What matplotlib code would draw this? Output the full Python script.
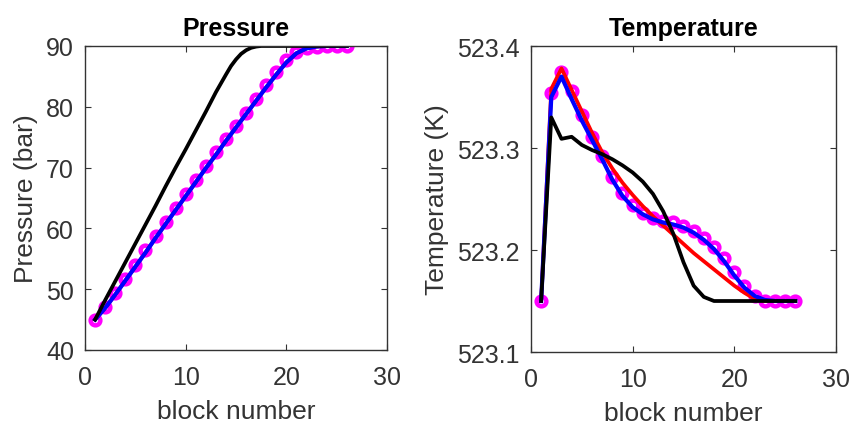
import numpy as np
import matplotlib.pyplot as plt

plt.rcParams['font.family'] = ['Liberation Sans', 'DejaVu Sans']

blocks = list(range(1, 27))

# pressure (bar)
pres_mag = [45.0, 47.1, 49.4, 51.7, 54.0, 56.4, 58.8, 61.1, 63.4, 65.7, 68.0, 70.2, 72.5,
            74.7, 76.9, 79.0, 81.3, 83.6, 85.8, 87.7, 89.0, 89.6, 89.9, 90.0, 90.0, 90.0]
pres_blue = [45.0, 46.9, 49.1, 51.4, 53.7, 56.0, 58.4, 60.7, 63.0, 65.3, 67.6, 69.9, 72.1,
             74.4, 76.6, 78.8, 81.0, 83.2, 85.3, 87.3, 88.8, 89.6, 89.9, 90.0, 90.0, 90.0]
pres_red = [45.0, 46.9, 49.1, 51.4, 53.7, 56.0, 58.4, 60.7, 63.0, 65.3, 67.6, 69.9, 72.1,
            74.4, 76.6, 78.8, 81.0, 83.2, 85.3, 87.3, 88.8, 89.6, 89.9, 90.0, 90.0, 90.0]
black_x = [1, 2, 3, 4, 5, 6, 7, 8, 9, 10, 11, 12, 13, 14, 14.5, 15, 15.5, 16, 16.5, 17, 17.5,
           18, 19, 20, 21, 22, 23, 24, 25, 26]
pres_black = [45.0, 48.2, 51.3, 54.4, 57.5, 60.6, 63.7, 66.9, 70.0, 73.0, 76.1, 79.2, 82.4,
              85.3, 86.7, 87.8, 88.7, 89.3, 89.7, 89.9, 90.0, 90.0, 90.0, 90.0, 90.0, 90.0,
              90.0, 90.0, 90.0, 90.0]

# temperature (K)
temp_mag = [523.150, 523.354, 523.375, 523.356, 523.332, 523.311, 523.292, 523.272, 523.256,
            523.244, 523.236, 523.231, 523.228, 523.227, 523.224, 523.219, 523.212, 523.203,
            523.192, 523.178, 523.165, 523.155, 523.150, 523.150, 523.150, 523.150]
temp_red = [523.150, 523.358, 523.378, 523.357, 523.336, 523.315, 523.296, 523.280, 523.266,
            523.254, 523.243, 523.233, 523.224, 523.215, 523.206, 523.197, 523.189, 523.181,
            523.173, 523.165, 523.158, 523.152, 523.150, 523.150, 523.150, 523.150]
temp_blue = [523.150, 523.350, 523.370, 523.348, 523.327, 523.308, 523.289, 523.269, 523.253,
             523.242, 523.235, 523.230, 523.227, 523.225, 523.222, 523.217, 523.210, 523.201,
             523.189, 523.175, 523.163, 523.155, 523.151, 523.150, 523.150, 523.150]
temp_black = [523.150, 523.330, 523.309, 523.311, 523.303, 523.298, 523.294, 523.289, 523.283,
              523.276, 523.267, 523.255, 523.238, 523.216, 523.188, 523.165, 523.154, 523.150,
              523.150, 523.150, 523.150, 523.150, 523.150, 523.150, 523.150, 523.150]

grey = '#333333'
fig = plt.figure(figsize=(8.52, 4.27), dpi=100)
ax1 = fig.add_axes([0.0998, 0.178, 0.3545, 0.712])
ax2 = fig.add_axes([0.6232, 0.1733, 0.358, 0.7166])


def style(ax):
    for s in ax.spines.values():
        s.set_color(grey)
        s.set_linewidth(1.0)
    ax.tick_params(direction='in', top=True, right=True, length=4, width=0.8,
                   colors=grey, labelsize=18)
    ax.tick_params(axis='x', pad=11)
    ax.tick_params(axis='y', pad=8)
    ax.set_xlim(0, 30)
    ax.set_xticks([0, 10, 20, 30])
    ax.set_xlabel('block number', fontsize=19, color=grey, labelpad=7)


mk = dict(marker='o', ls='none', ms=7.0, mew=3.2, mfc='none', mec='#FF00FF')

ax1.plot(blocks, pres_mag, **mk)
ax1.plot(blocks, pres_red, color='#FF0000', lw=2.7)
ax1.plot(blocks, pres_blue, color='#0000FF', lw=3.0)
ax1.plot(black_x, pres_black, color='black', lw=2.7)
style(ax1)
ax1.set_ylim(40, 90)
ax1.set_yticks([40, 50, 60, 70, 80, 90])
ax1.set_ylabel('Pressure (bar)', fontsize=19, color=grey, labelpad=6)
ax1.set_title('Pressure', fontsize=18, fontweight='bold', pad=8)

ax2.plot(blocks, temp_mag, **mk)
ax2.plot(blocks, temp_red, color='#FF0000', lw=2.7)
ax2.plot(blocks, temp_blue, color='#0000FF', lw=3.0)
ax2.plot(blocks, temp_black, color='black', lw=2.7)
style(ax2)
ax2.set_ylim(523.1, 523.4)
ax2.set_yticks([523.1, 523.2, 523.3, 523.4])
ax2.set_yticklabels(['523.1', '523.2', '523.3', '523.4'])
ax2.set_ylabel('Temperature (K)', fontsize=19, color=grey, labelpad=6)
ax2.set_title('Temperature', fontsize=18, fontweight='bold', pad=8)

fig.savefig('out.png', dpi=100)
